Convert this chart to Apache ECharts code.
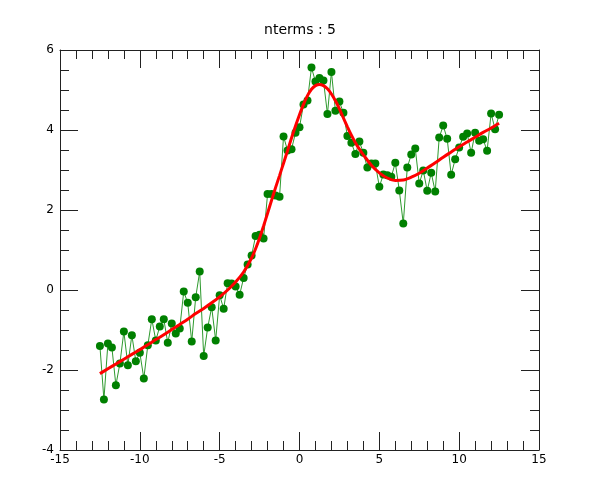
<!DOCTYPE html>
<html>
<head>
<meta charset="utf-8">
<title>nterms : 5</title>
<script src="https://cdn.jsdelivr.net/npm/echarts@6/dist/echarts.min.js"></script>
<style>
  html, body { margin: 0; padding: 0; background: #fff; }
  #chart { width: 600px; height: 500px; }
</style>
</head>
<body>
<div id="chart"></div>
<script>
  // measured samples (green)
  const pointX = [-12.5, -12.25, -12, -11.75, -11.5, -11.25, -11, -10.75, -10.5, -10.25,
    -10, -9.75, -9.5, -9.25, -9, -8.75, -8.5, -8.25, -8, -7.75,
    -7.5, -7.25, -7, -6.75, -6.5, -6.25, -6, -5.75, -5.5, -5.25,
    -5, -4.75, -4.5, -4.25, -4, -3.75, -3.5, -3.25, -3, -2.75,
    -2.5, -2.25, -2, -1.75, -1.5, -1.25, -1, -0.75, -0.5, -0.25,
    0, 0.25, 0.5, 0.75, 1, 1.25, 1.5, 1.75, 2, 2.25,
    2.5, 2.75, 3, 3.25, 3.5, 3.75, 4, 4.25, 4.5, 4.75,
    5, 5.25, 5.5, 5.75, 6, 6.25, 6.5, 6.75, 7, 7.25,
    7.5, 7.75, 8, 8.25, 8.5, 8.75, 9, 9.25, 9.5, 9.75,
    10, 10.25, 10.5, 10.75, 11, 11.25, 11.5, 11.75, 12, 12.25, 12.5];
  const pointY = [-1.40, -2.74, -1.34, -1.44, -2.38, -1.84, -1.04, -1.88, -1.13, -1.78,
    -1.57, -2.21, -1.38, -0.73, -1.26, -0.91, -0.73, -1.32, -0.84, -1.09,
    -0.96, -0.04, -0.32, -1.29, -0.18, 0.46, -1.65, -0.94, -0.43, -1.26,
    -0.13, -0.47, 0.17, 0.16, 0.09, -0.12, 0.30, 0.64, 0.86, 1.35,
    1.38, 1.29, 2.40, 2.40, 2.36, 2.33, 3.84, 3.49, 3.52, 3.93,
    4.07, 4.64, 4.74, 5.56, 5.21, 5.30, 5.24, 4.40, 5.45, 4.48,
    4.71, 4.43, 3.85, 3.68, 3.40, 3.71, 3.43, 3.06, 3.16, 3.16,
    2.58, 2.89, 2.87, 2.83, 3.18, 2.49, 1.66, 3.06, 3.39, 3.54,
    2.66, 2.99, 2.48, 2.93, 2.46, 3.81, 4.11, 3.78, 2.88, 3.27,
    3.56, 3.83, 3.91, 3.43, 3.93, 3.73, 3.77, 3.48, 4.41, 4.02, 4.38];

  // fitted curve (red), denser around the peak
  const fitX = [-12.5, -12, -11.5, -11, -10.5, -10, -9.5, -9, -8.5, -8,
    -7.5, -7, -6.5, -6, -5.5, -5, -4.5, -4, -3.5,
    -3, -2.75, -2.5, -2.25, -2, -1.75, -1.5, -1.25, -1, -0.75,
    -0.5, -0.25, 0, 0.25, 0.5, 0.75, 1, 1.25, 1.5, 1.75,
    2, 2.25, 2.5, 2.75, 3, 3.25, 3.5, 3.75, 4,
    4.5, 5, 5.5, 6, 6.5, 7, 7.5, 8, 8.5, 9,
    9.5, 10, 10.5, 11, 11.5, 12, 12.5];
  const fitY = [-2.09, -1.97, -1.85, -1.73, -1.61, -1.49, -1.37, -1.24, -1.12, -0.99,
    -0.86, -0.73, -0.59, -0.46, -0.32, -0.17, 0.00, 0.20, 0.45,
    0.80, 1.03, 1.30, 1.60, 1.92, 2.24, 2.56, 2.86, 3.17, 3.48,
    3.80, 4.10, 4.38, 4.64, 4.86, 5.02, 5.11, 5.14, 5.11, 5.03,
    4.90, 4.73, 4.53, 4.30, 4.08, 3.87, 3.68, 3.52, 3.38,
    3.12, 2.93, 2.80, 2.74, 2.75, 2.82, 2.92, 3.05, 3.18, 3.32,
    3.45, 3.58, 3.70, 3.82, 3.94, 4.05, 4.17];

  const xTicks = { min: -15, max: 15, interval: 5 };
  const yTicks = { min: -4, max: 6, interval: 2 };

  const font = 'DejaVu Sans';
  const axisColor = '#222';

  function makeAxis(t, position, minorSplit, showLabel, labelMargin) {
    return {
      type: 'value',
      position: position,
      min: t.min,
      max: t.max,
      interval: t.interval,
      axisLine: { show: true, onZero: false, lineStyle: { color: axisColor, width: 1 } },
      axisTick: { show: true, inside: true, length: 18, lineStyle: { color: axisColor, width: 1 } },
      minorTick: { show: true, splitNumber: minorSplit, length: 9, lineStyle: { color: axisColor, width: 1 } },
      splitLine: { show: false },
      minorSplitLine: { show: false },
      axisLabel: {
        show: showLabel,
        margin: labelMargin,
        color: '#000',
        fontFamily: font,
        fontSize: 12,
        showMinLabel: true,
        showMaxLabel: true
      }
    };
  }

  const chart = echarts.init(document.getElementById('chart'));
  const option = {
    animation: false,
    backgroundColor: '#fff',
    title: {
      text: 'nterms : 5',
      left: 'center',
      top: 18,
      textStyle: { fontFamily: font, fontSize: 14, fontWeight: 'normal', color: '#000' }
    },
    grid: { left: 60, right: 61, top: 50, bottom: 50, containLabel: false },
    xAxis: [
      makeAxis(xTicks, 'bottom', 5, true, 4),
      makeAxis(xTicks, 'top', 5, false, 4)
    ],
    yAxis: [
      makeAxis(yTicks, 'left', 4, true, 6),
      makeAxis(yTicks, 'right', 4, false, 6)
    ],
    series: [
      {
        name: 'data',
        type: 'line',
        xAxisIndex: 0,
        yAxisIndex: 0,
        data: pointX.map((x, i) => [x, pointY[i]]),
        symbol: 'circle',
        symbolSize: 8,
        showSymbol: true,
        itemStyle: { color: '#008000' },
        lineStyle: { color: '#2e9a2e', width: 1 },
        z: 2
      },
      {
        name: 'fit',
        type: 'line',
        xAxisIndex: 0,
        yAxisIndex: 0,
        data: fitX.map((x, i) => [x, fitY[i]]),
        smooth: 0.3,
        showSymbol: false,
        lineStyle: { color: '#ff0000', width: 3 },
        z: 3
      }
    ]
  };
  chart.setOption(option);
</script>
</body>
</html>
